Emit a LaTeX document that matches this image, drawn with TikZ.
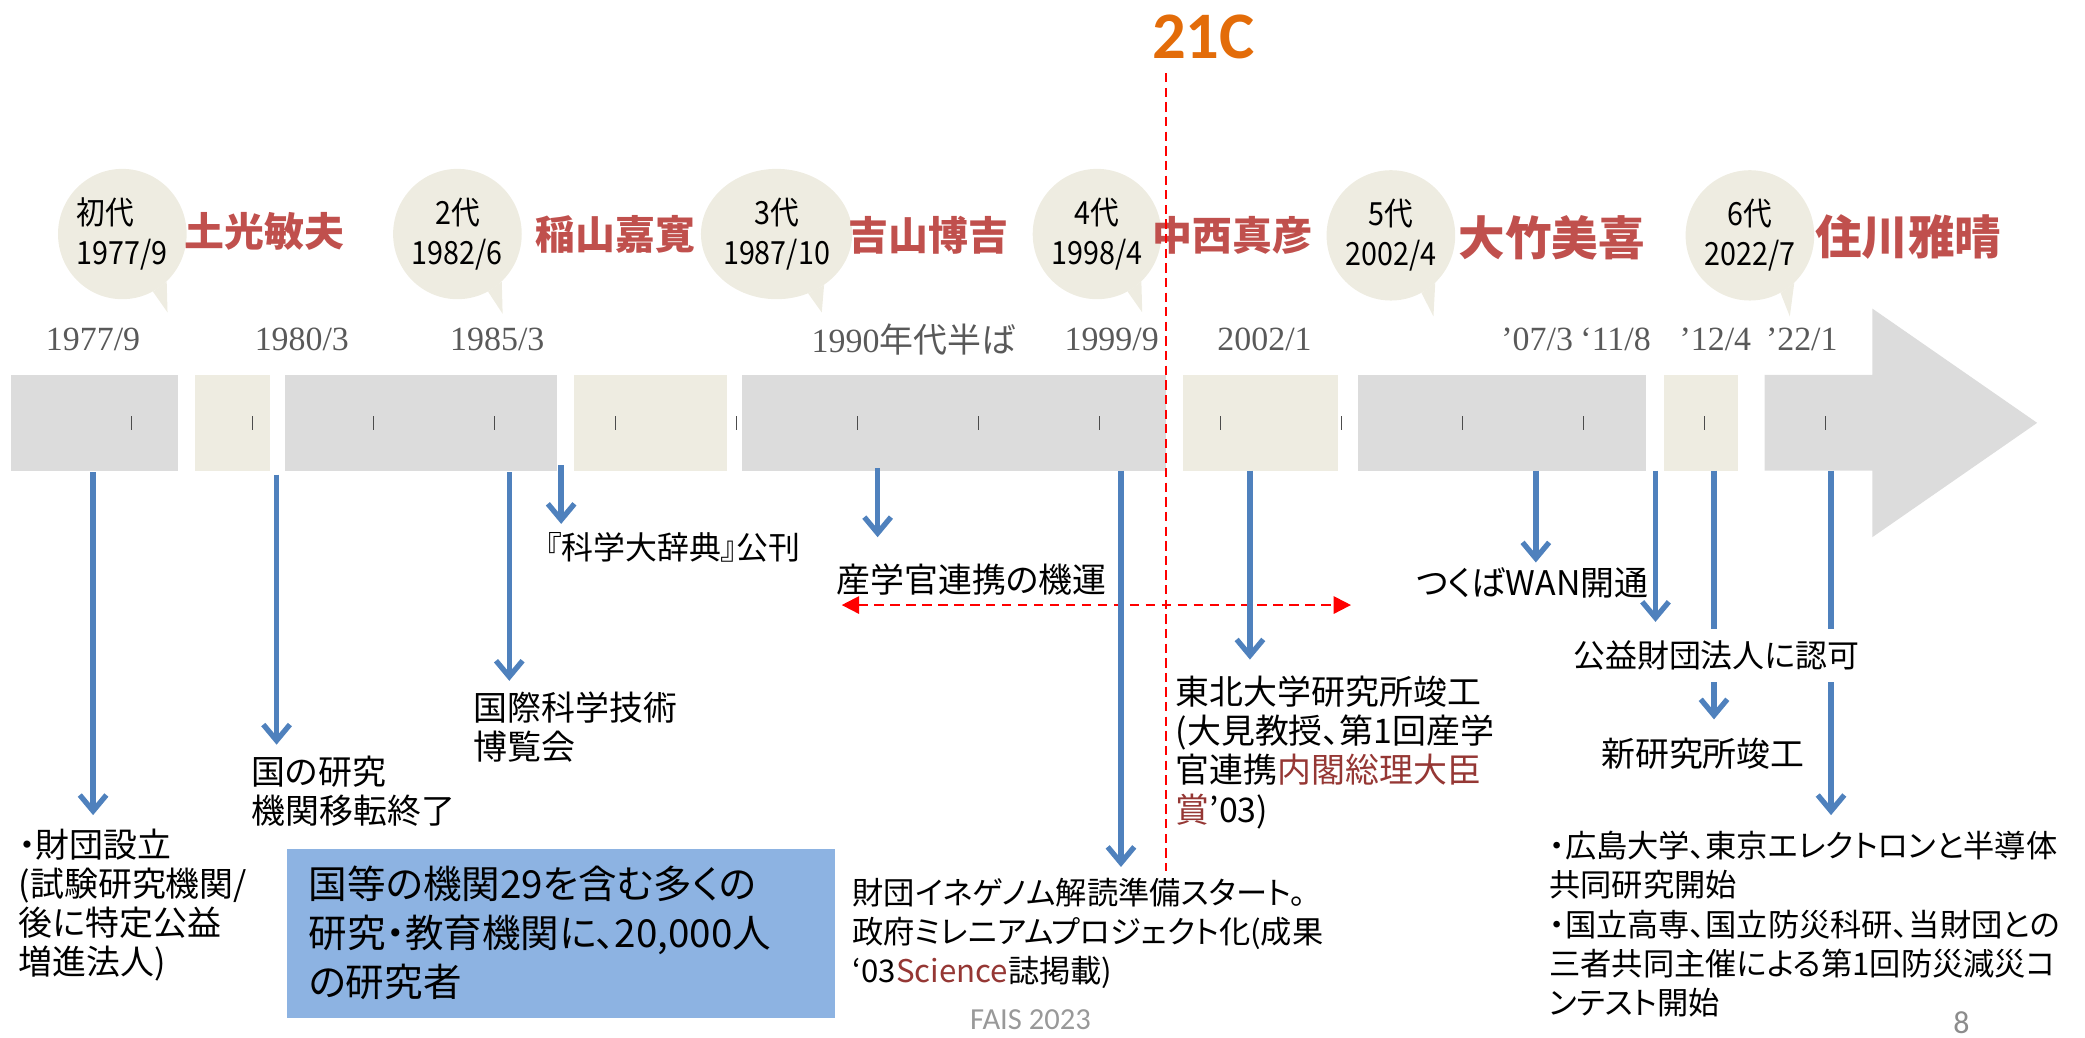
\documentclass[tikz,border=0pt]{standalone}
\usepackage{fontspec}
\usetikzlibrary{arrows.meta,shapes.geometric}
\setmainfont{Noto Sans CJK JP}[RawFeature=+palt]
\newfontfamily\datef{Liberation Serif}
\newfontfamily\calf{Carlito}
\newfontfamily\bubf{Noto Sans CJK JP}[FakeStretch=0.9]
\definecolor{barg}{HTML}{DCDCDC}
\definecolor{barb}{HTML}{EEECE1}
\definecolor{arrblue}{HTML}{4F81BD}
\definecolor{namered}{HTML}{C0504D}
\definecolor{darkred}{HTML}{953734}
\definecolor{dategray}{HTML}{595959}
\definecolor{boxblue}{HTML}{8DB3E2}
\definecolor{orange21}{HTML}{E36C09}
\tikzset{
  grayfill/.style={fill=barg},
  beigefill/.style={fill=barb},
  barrow/.style={draw=arrblue, line width=4pt, -{Straight Barb[length=12pt,width=20pt,line width=4pt]}},
  lbl/.style={anchor=north west, inner sep=0pt, align=left, font=\fontsize{25.5}{29.5}\selectfont},
  lblsm/.style={lbl, font=\fontsize{23.5}{29.5}\selectfont},
  bub/.style={ellipse, fill=barb, minimum width=92pt, minimum height=98pt, inner sep=0pt, align=center, font=\bubf\fontsize{24}{30}\selectfont},
  pname/.style={inner sep=0pt, text=namered, font=\bfseries\fontsize{30}{30}\selectfont},
  pnamebig/.style={pname, font=\bfseries\fontsize{35}{35}\selectfont},
  datelbl/.style={inner sep=0pt, text=dategray, font=\datef\fontsize{25.5}{26}\selectfont},
  tick/.style={draw=black!70, line width=0.9pt},
  tail/.style={fill=barb},
}
\begin{document}
\begin{tikzpicture}[x=1pt,y=-1pt]
\useasboundingbox (0,0) rectangle (1568,780);
% title
\node[inner sep=0pt, text=orange21, font=\calf\bfseries\fontsize{50}{50}\selectfont] (c21) at (905,28) {21C};
% bars
\fill[grayfill] (8,282) rectangle (134,354);
\fill[beigefill] (147,282) rectangle (203,354);
\fill[grayfill] (214,282) rectangle (419,354);
\fill[beigefill] (432,282) rectangle (547,354);
\fill[grayfill] (558,282) rectangle (877,354);
\fill[beigefill] (890,282) rectangle (1006,354);
\fill[grayfill] (1021,282) rectangle (1238,354);
\fill[beigefill] (1251,282) rectangle (1307,354);
\fill[grayfill] (1327,282) -- (1408,282) -- (1408,232) -- (1532,318) -- (1408,404) -- (1408,354) -- (1327,354) -- cycle;
\foreach \i in {0,...,14} \draw[tick] (99+91*\i,313) -- ++(0,10);
% bubbles
\node[bub, align=left] (b1) at (92,176) {初代\\1977/9};
\node[bub] (b2) at (344,176) {2代\\1982/6};
\node[bub] (b3) at (584,176) {3代\\1987/10};
\node[bub] (b4) at (825,176) {4代\\1998/4};
\node[bub] (b5) at (1046,177) {5代\\2002/4};
\node[bub] (b6) at (1316,177) {6代\\2022/7};
\fill[tail] (b1.-62) -- (126,235) -- (b1.-47) -- cycle;
\fill[tail] (b2.-62) -- (378,236) -- (b2.-47) -- cycle;
\fill[tail] (b3.-62) -- (618,235) -- (b3.-47) -- cycle;
\fill[tail] (b4.-62) -- (859,235) -- (b4.-47) -- cycle;
\fill[tail] (b5.-62) -- (1078,238) -- (b5.-47) -- cycle;
\fill[tail] (b6.-62) -- (1346,238) -- (b6.-47) -- cycle;
% names
\node[pname] (n1) at (199,174) {土光敏夫};
\node[pname] (n2) at (463,176) {稲山嘉寛};
\node[pname] (n3) at (698,177) {吉山博吉};
\node[pname] (n4) at (927,177) {中西真彦};
\node[pnamebig] (n5) at (1167,179) {大竹美喜};
\node[pnamebig] (n6) at (1435,178) {住川雅晴};
% dates
\node[datelbl] (d1) at (70,255) {1977/9};
\node[datelbl] (d2) at (227,255) {1980/3};
\node[datelbl] (d3) at (374,255) {1985/3};
\node[datelbl] (d4) at (687,255) {1990{\rmfamily 年代半ば}};
\node[datelbl] (d5) at (836,255) {1999/9};
\node[datelbl] (d6) at (951,255) {2002/1};
\node[datelbl] (d7) at (1156,255) {’07/3};
\node[datelbl] (d8) at (1215,255) {‘11/8};
\node[datelbl] (d9) at (1290,255) {’12/4};
\node[datelbl] (d10) at (1355,255) {’22/1};
% 21C line
\coordinate (v1) at (877,55);
\coordinate (v2) at (877,655);
\draw[red, line width=1.5pt, dash pattern=on 7pt off 4pt] (v1) -- (v2);
% labels
\node[lbl] (t1) at (14,623) {・財団設立\\(試験研究機関/\\後に特定公益\\増進法人)};
\node[lbl] (t2) at (189,568) {国の研究\\機関移転終了};
\node[lbl] (t3) at (356,520) {国際科学技術\\博覧会};
\node[lbl, font=\fontsize{24}{29}\selectfont] (t4) at (410,400) {『科学大辞典』公刊};
\node[lbl] (t5) at (629,424) {産学官連携の機運};
\node[lblsm] (t6) at (641,660) {財団イネゲノム解読準備スタート。\\政府ミレニアムプロジェクト化(成果\\‘03\textcolor{darkred}{Science}誌掲載)};
\node[lbl] (t7) at (884,508) {東北大学研究所竣工\\(大見教授、第1回産学\\官連携\textcolor{darkred}{内閣総理大臣}\\\textcolor{darkred}{賞}’03)};
\node[lbl] (t8) at (1065,427) {つくばWAN開通};
\node[lbl] (t10) at (1204,555) {新研究所竣工};
\node[lblsm] (t11) at (1165,625) {・広島大学、東京エレクトロンと半導体\\共同研究開始\\・国立高専、国立防災科研、当財団との\\三者共同主催による第1回防災減災コ\\ンテスト開始};
% double arrow
\coordinate (h1) at (633,455);
\coordinate (h2) at (1016,455);
\draw[red, line width=1.5pt, dash pattern=on 7pt off 5pt, {Triangle[length=13pt,width=13pt]}-{Triangle[length=13pt,width=13pt]}] (h1) -- (h2);
% blue arrows
\coordinate (s1) at (70,355);
\coordinate (s2) at (208,357);
\coordinate (s3) at (383,355);
\coordinate (s4) at (422,350);
\coordinate (s5) at (660,352);
\coordinate (s6) at (843,354);
\coordinate (s7) at (940,354);
\coordinate (s8) at (1155,354);
\coordinate (s9) at (1245,354);
\coordinate (s10) at (1289,354);
\coordinate (s11) at (1377,354);
\draw[barrow, shorten >=10pt] (s1) -- (s1 |- t1.north);
\draw[barrow, shorten >=8pt] (s2) -- (s2 |- t2.north);
\draw[barrow, shorten >=8pt] (s3) -- (s3 |- t3.north);
\draw[barrow, shorten >=6pt] (s4) -- (s4 |- t4.north);
\draw[barrow, shorten >=20pt] (s5) -- (s5 |- t5.north);
\draw[barrow, shorten >=8pt] (s6) -- (s6 |- t6.north);
\draw[barrow, shorten >=12pt] (s7) -- (s7 |- t7.north);
\draw[barrow, shorten >=4pt] (s8) -- (s8 |- t8.north);
\draw[barrow, shorten >=14pt] (s10) -- (s10 |- t10.north);
\draw[barrow, shorten >=12pt] (s11) -- (s11 |- t11.north);
\node[lbl, anchor=west, fill=white, inner ysep=9pt, font=\fontsize{24}{29}\selectfont] (t9) at (1183,493) {公益財団法人に認可};
\draw[barrow, shorten >=5pt] (s9) -- (s9 |- t9.north);
% blue box
\node[anchor=north west, fill=boxblue, minimum height=127pt, text width=380pt, inner xsep=16pt, inner ysep=0pt, align=left, font=\fontsize{29}{37}\selectfont] (box) at (216,638) {国等の機関29を含む多くの\\研究・教育機関に、20,000人\\の研究者};
% footer
\node[inner sep=0pt, text=black!40, font=\calf\fontsize{23}{23}\selectfont] (foot) at (775,767) {FAIS 2023};
\node[inner sep=0pt, text=black!45, font=\calf\fontsize{24}{24}\selectfont] (pg) at (1475,769) {8};
\end{tikzpicture}
\end{document}
